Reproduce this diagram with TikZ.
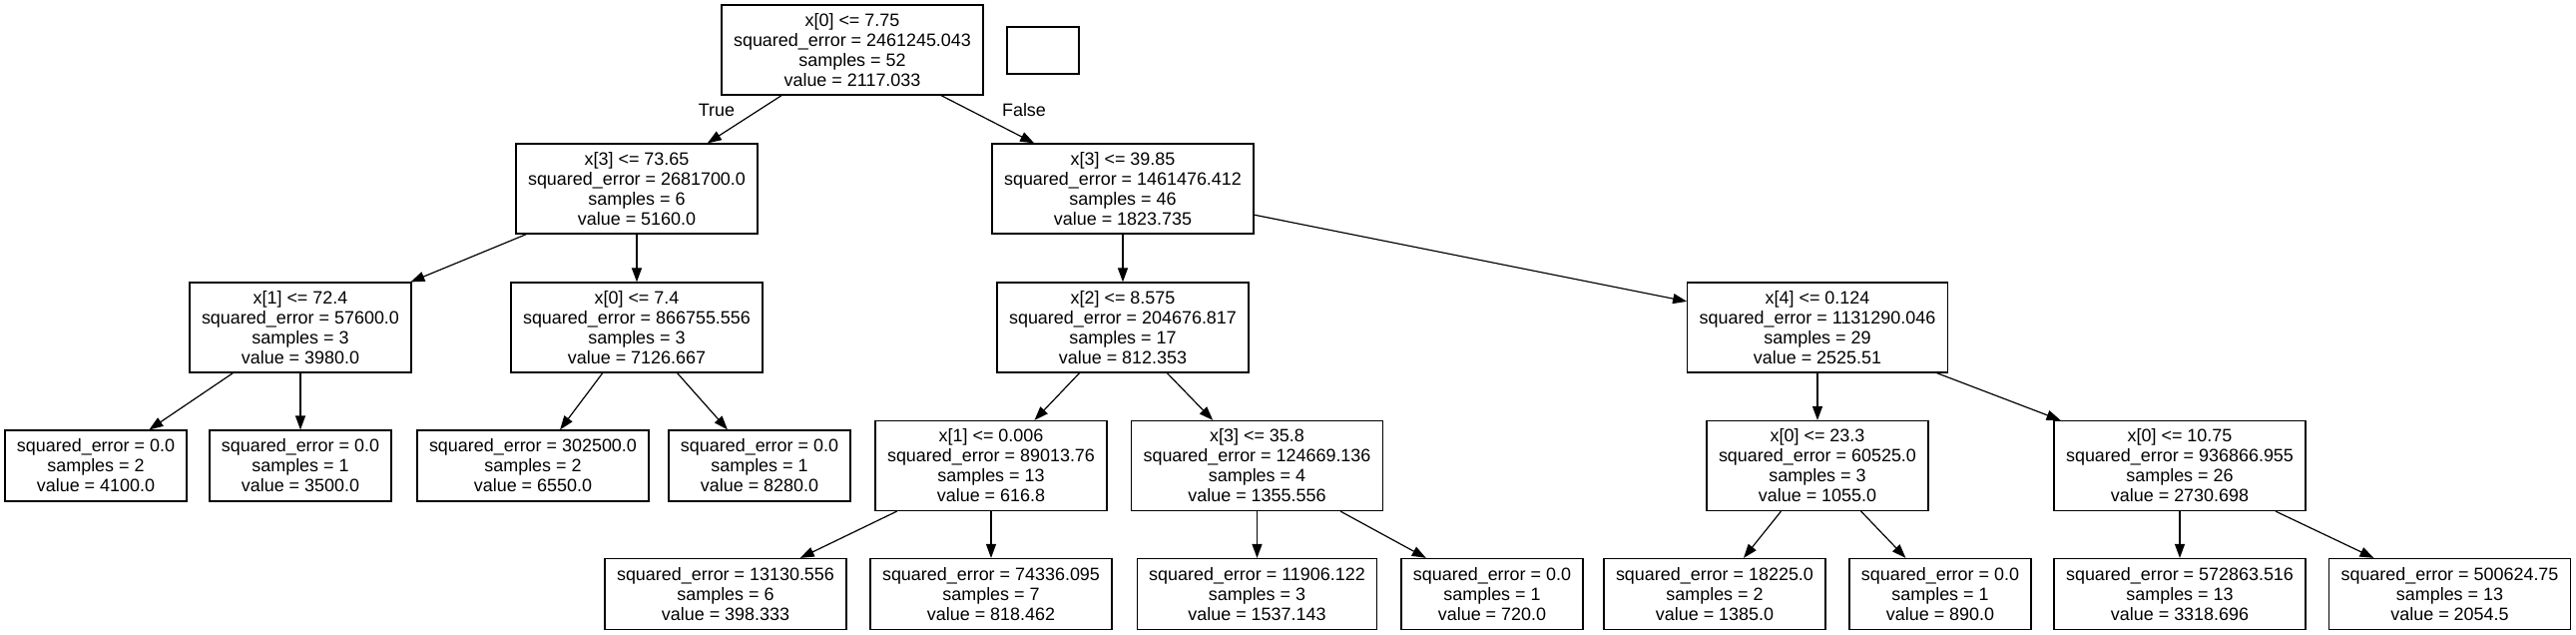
\documentclass[tikz,border=0pt]{standalone}
\usepackage{fontspec}
\setmainfont{Liberation Sans}
\usetikzlibrary{arrows.meta}
\begin{document}
\begin{tikzpicture}[x=0.5pt,y=-0.5pt,
  box/.style={draw, line width=0.6pt, rectangle, align=center, inner xsep=6pt, inner ysep=0pt, font=\fontsize{8.97}{10}\selectfont},
  internal/.style={box, minimum height=45pt},
  leaf/.style={box, minimum height=35.5pt},
  lbl/.style={inner sep=0pt, font=\fontsize{8.97}{10}\selectfont},
  conn/.style={-{Triangle[length=7pt,width=5pt]}, line width=0.6pt}]
\useasboundingbox (0,0) rectangle (2581,636);
% rank 0
\node[internal] (root) at (854,50) {x[0] <= 7.75\\squared\_error = 2461245.043\\samples = 52\\value = 2117.033};
\node[box, minimum width=36pt, minimum height=23.5pt, inner sep=0pt] (empty) at (1045,50.5) {};
% rank 1
\node[internal] (A) at (638,189) {x[3] <= 73.65\\squared\_error = 2681700.0\\samples = 6\\value = 5160.0};
\node[internal] (B) at (1125,189) {x[3] <= 39.85\\squared\_error = 1461476.412\\samples = 46\\value = 1823.735};
% rank 2
\node[internal] (C) at (301,328) {x[1] <= 72.4\\squared\_error = 57600.0\\samples = 3\\value = 3980.0};
\node[internal] (D) at (638,328) {x[0] <= 7.4\\squared\_error = 866755.556\\samples = 3\\value = 7126.667};
\node[internal] (E) at (1125,328) {x[2] <= 8.575\\squared\_error = 204676.817\\samples = 17\\value = 812.353};
\node[internal] (F) at (1821,328) {x[4] <= 0.124\\squared\_error = 1131290.046\\samples = 29\\value = 2525.51};
% rank 3
\node[leaf] (L1) at (96,466.5) {squared\_error = 0.0\\samples = 2\\value = 4100.0};
\node[leaf] (L2) at (301,466.5) {squared\_error = 0.0\\samples = 1\\value = 3500.0};
\node[leaf] (L3) at (534,466.5) {squared\_error = 302500.0\\samples = 2\\value = 6550.0};
\node[leaf] (L4) at (761,466.5) {squared\_error = 0.0\\samples = 1\\value = 8280.0};
\node[internal] (G) at (993,466.5) {x[1] <= 0.006\\squared\_error = 89013.76\\samples = 13\\value = 616.8};
\node[internal] (H) at (1259.5,466.5) {x[3] <= 35.8\\squared\_error = 124669.136\\samples = 4\\value = 1355.556};
\node[internal] (I) at (1821,466.5) {x[0] <= 23.3\\squared\_error = 60525.0\\samples = 3\\value = 1055.0};
\node[internal] (J) at (2184,466.5) {x[0] <= 10.75\\squared\_error = 936866.955\\samples = 26\\value = 2730.698};
% rank 4
\node[leaf] (M1) at (727,595) {squared\_error = 13130.556\\samples = 6\\value = 398.333};
\node[leaf] (M2) at (993,595) {squared\_error = 74336.095\\samples = 7\\value = 818.462};
\node[leaf] (M3) at (1259.5,595) {squared\_error = 11906.122\\samples = 3\\value = 1537.143};
\node[leaf] (M4) at (1495,595) {squared\_error = 0.0\\samples = 1\\value = 720.0};
\node[leaf] (M5) at (1718,595) {squared\_error = 18225.0\\samples = 2\\value = 1385.0};
\node[leaf] (M6) at (1944,595) {squared\_error = 0.0\\samples = 1\\value = 890.0};
\node[leaf] (M7) at (2184,595) {squared\_error = 572863.516\\samples = 13\\value = 3318.696};
\node[leaf] (M8) at (2454.5,595) {squared\_error = 500624.75\\samples = 13\\value = 2054.5};
% edge labels
\node[lbl] (tlab) at (718,110) {True};
\node[lbl] (flab) at (1026,110) {False};
% edges
\draw[conn] (root) -- (A);
\draw[conn] (root) -- (B);
\draw[conn] (A) -- (C);
\draw[conn] (A) -- (D);
\draw[conn] (B) -- (E);
\draw[conn] (B) -- (F);
\draw[conn] (C) -- (L1);
\draw[conn] (C) -- (L2);
\draw[conn] (D) -- (L3);
\draw[conn] (D) -- (L4);
\draw[conn] (E) -- (G);
\draw[conn] (E) -- (H);
\draw[conn] (F) -- (I);
\draw[conn] (F) -- (J);
\draw[conn] (G) -- (M1);
\draw[conn] (G) -- (M2);
\draw[conn] (H) -- (M3);
\draw[conn] (H) -- (M4);
\draw[conn] (I) -- (M5);
\draw[conn] (I) -- (M6);
\draw[conn] (J) -- (M7);
\draw[conn] (J) -- (M8);
\end{tikzpicture}
\end{document}
